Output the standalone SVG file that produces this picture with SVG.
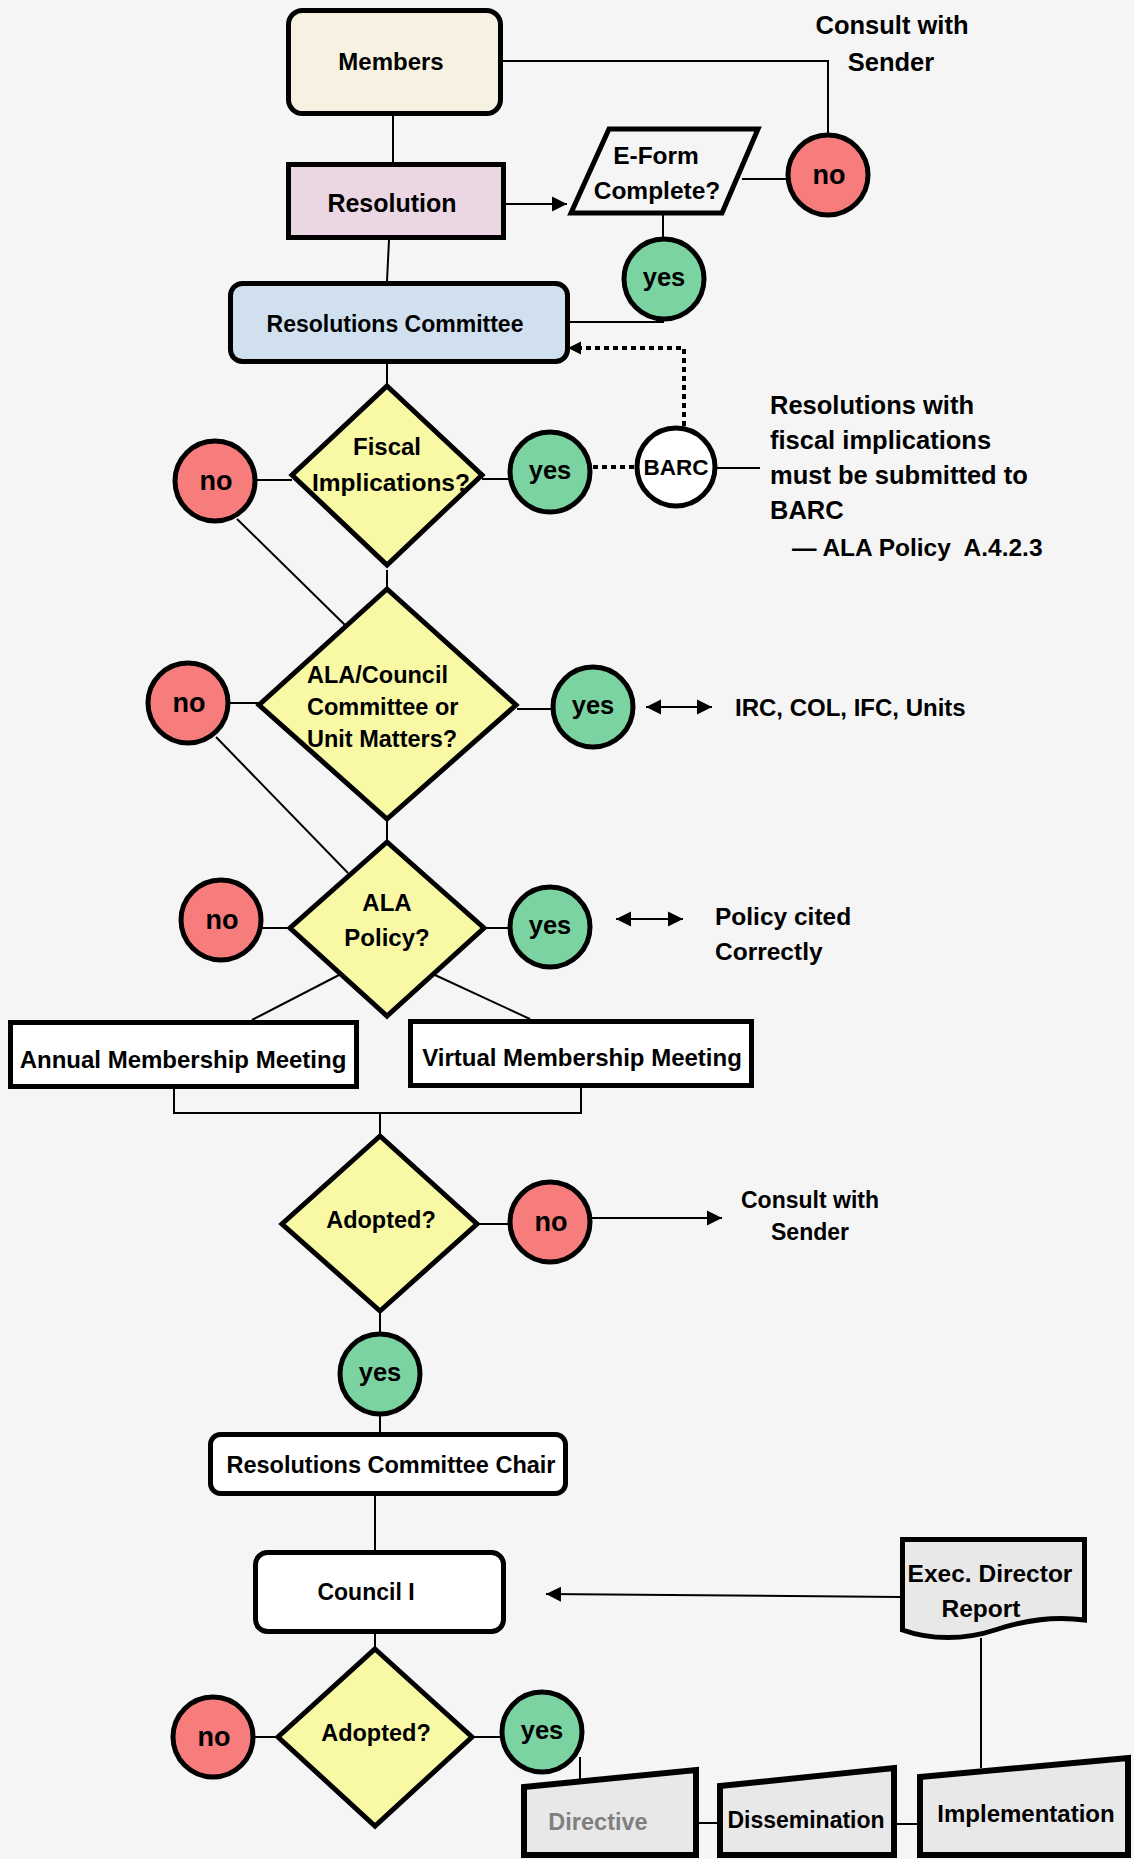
<svg xmlns="http://www.w3.org/2000/svg" width="1134" height="1859" viewBox="0 0 1134 1859">
<style>
.bg{fill:#F5F5F5}
.sh{stroke:#000;stroke-width:5;stroke-linejoin:miter}
.c{stroke:#000;stroke-width:2;fill:none}
.d{stroke:#000;stroke-width:4;stroke-dasharray:5 4;fill:none}
.no{fill:#F77C7C}
.yes{fill:#7BD3A2}
.dia{fill:#F9F9A5}
.doc{fill:#E8E8E8}
.t{font-family:"Liberation Sans",Arial,sans-serif;font-weight:bold;font-size:24px;fill:#000;text-anchor:middle;dominant-baseline:central}
.l{text-anchor:start}
.tn{font-size:27px}
.ty{font-size:25.5px}
</style>
<defs>
<marker id="ah" markerUnits="userSpaceOnUse" markerWidth="16" markerHeight="16" refX="15" refY="8" orient="auto-start-reverse" viewBox="0 0 16 16">
<path d="M0,0.5 L15,8 L0,15.5 Z" fill="#000"/>
</marker>
<marker id="ahs" markerUnits="userSpaceOnUse" markerWidth="14" markerHeight="14" refX="13" refY="7" orient="auto" viewBox="0 0 14 14">
<path d="M0,0.5 L13,7 L0,13.5 Z" fill="#000"/>
</marker>
</defs>
<rect class="bg" x="0" y="0" width="1134" height="1859"/>

<g id="connectors">
<line class="c" x1="393" y1="116" x2="393" y2="162"/>
<polyline class="c" points="503,61 828,61 828,133"/>
<line class="c" x1="506" y1="204" x2="567" y2="204" marker-end="url(#ah)"/>
<line class="c" x1="742" y1="179" x2="787" y2="179"/>
<line class="c" x1="663" y1="215" x2="663" y2="237"/>
<line class="c" x1="570" y1="322" x2="664" y2="322"/>
<line class="c" x1="389" y1="240" x2="387" y2="281"/>
<line class="c" x1="387" y1="364" x2="387" y2="386"/>
<polyline class="d" points="684,426 684,348 580,348"/>
<line x1="580" y1="348" x2="568" y2="348" stroke="none" marker-end="url(#ahs)"/>
<line class="c" x1="257" y1="480" x2="292" y2="480"/>
<line class="c" x1="482" y1="479" x2="510" y2="479"/>
<line class="d" x1="593" y1="467" x2="636" y2="467"/>
<line class="c" x1="717" y1="468" x2="760" y2="468"/>
<line class="c" x1="387" y1="570" x2="387" y2="589"/>
<line class="c" x1="237" y1="519" x2="346" y2="626"/>
<line class="c" x1="230" y1="703" x2="259" y2="703"/>
<line class="c" x1="517" y1="709" x2="553" y2="709"/>
<line class="c" x1="646" y1="707" x2="712" y2="707" marker-start="url(#ah)" marker-end="url(#ah)"/>
<line class="c" x1="216" y1="737" x2="348" y2="873"/>
<line class="c" x1="387" y1="820" x2="387" y2="842"/>
<line class="c" x1="262" y1="928" x2="291" y2="928"/>
<line class="c" x1="484" y1="928" x2="510" y2="928"/>
<line class="c" x1="616" y1="919" x2="683" y2="919" marker-start="url(#ah)" marker-end="url(#ah)"/>
<line class="c" x1="339" y1="975" x2="252" y2="1020"/>
<line class="c" x1="435" y1="975" x2="530" y2="1019"/>
<polyline class="c" points="174,1089 174,1113 581,1113 581,1088"/>
<line class="c" x1="380" y1="1113" x2="380" y2="1136"/>
<line class="c" x1="477" y1="1224" x2="510" y2="1224"/>
<line class="c" x1="592" y1="1218" x2="722" y2="1218" marker-end="url(#ah)"/>
<line class="c" x1="380" y1="1311" x2="380" y2="1333"/>
<line class="c" x1="380" y1="1415" x2="380" y2="1433"/>
<line class="c" x1="375" y1="1496" x2="375" y2="1551"/>
<line class="c" x1="900" y1="1597" x2="546" y2="1594" marker-end="url(#ah)"/>
<line class="c" x1="375" y1="1633" x2="375" y2="1649"/>
<line class="c" x1="254" y1="1737" x2="278" y2="1737"/>
<line class="c" x1="472" y1="1737" x2="501" y2="1737"/>
<line class="c" x1="580" y1="1757" x2="580" y2="1779"/>
<line class="c" x1="697" y1="1823" x2="718" y2="1823"/>
<line class="c" x1="895" y1="1824" x2="918" y2="1824"/>
<line class="c" x1="981" y1="1638" x2="981" y2="1768"/>
</g>

<g id="members">
<rect class="sh" x="288.5" y="10.5" width="212" height="103" rx="14" fill="#F7F1E2"/>
<text class="t" x="391" y="61">Members</text>
</g>
<g id="consult-top">
<text class="t" x="892" y="25" style="font-size:25.5px">Consult with</text>
<text class="t" x="891" y="62" style="font-size:25.5px">Sender</text>
</g>
<g id="resolution">
<rect class="sh" x="288.5" y="164.5" width="215" height="73" fill="#EBD7E3"/>
<text class="t" x="392" y="203" style="font-size:25px">Resolution</text>
</g>
<g id="eform">
<polygon class="sh" points="609,129 758,129 722,213 571,213" fill="#F5F5F5"/>
<text class="t" x="656" y="155" style="font-size:24.5px">E-Form</text>
<text class="t" x="657" y="190" style="font-size:24.5px">Complete?</text>
</g>
<g id="no-eform">
<circle class="sh no" cx="828" cy="175" r="40"/>
<text class="t tn" x="829" y="175">no</text>
</g>
<g id="yes-eform">
<circle class="sh yes" cx="664" cy="279" r="40"/>
<text class="t ty" x="664" y="277">yes</text>
</g>
<g id="res-committee">
<rect class="sh" x="230.5" y="283.5" width="337" height="78" rx="12" fill="#D0E0EE"/>
<text class="t" x="395" y="324" style="font-size:23px">Resolutions Committee</text>
</g>
<g id="fiscal">
<polygon class="sh dia" points="387,386 482,475 387,565 292,475"/>
<text class="t" x="387" y="446" style="font-size:24px">Fiscal</text>
<text class="t" x="391" y="482" style="font-size:24.5px">Implications?</text>
</g>
<g id="no-fiscal">
<circle class="sh no" cx="215" cy="481" r="40"/>
<text class="t tn" x="216" y="481">no</text>
</g>
<g id="yes-fiscal">
<circle class="sh yes" cx="550" cy="472" r="40"/>
<text class="t ty" x="550" y="470">yes</text>
</g>
<g id="barc">
<circle class="sh" cx="676" cy="467" r="39" fill="#FFFFFF"/>
<text class="t" x="676" y="467" style="font-size:22.5px">BARC</text>
</g>
<g id="barc-note">
<text class="t l" x="770" y="405" style="font-size:25.5px">Resolutions with</text>
<text class="t l" x="770" y="440" style="font-size:25.5px">fiscal implications</text>
<text class="t l" x="770" y="475" style="font-size:25.5px">must be submitted to</text>
<text class="t l" x="770" y="510" style="font-size:25.5px">BARC</text>
<text class="t l" x="792" y="547" style="font-size:24.5px;white-space:pre" xml:space="preserve">— ALA Policy  A.4.2.3</text>
</g>
<g id="ala-council">
<polygon class="sh dia" points="387,589 516,705 387,819 259,705"/>
<text class="t l" x="307" y="675" style="font-size:23.5px">ALA/Council</text>
<text class="t l" x="307" y="707" style="font-size:23.5px">Committee or</text>
<text class="t l" x="307" y="739" style="font-size:23.5px">Unit Matters?</text>
</g>
<g id="no-council">
<circle class="sh no" cx="188" cy="703" r="40"/>
<text class="t tn" x="189" y="703">no</text>
</g>
<g id="yes-council">
<circle class="sh yes" cx="593" cy="707" r="40"/>
<text class="t ty" x="593" y="705">yes</text>
</g>
<g id="units">
<text class="t l" x="735" y="707">IRC, COL, IFC, Units</text>
</g>
<g id="ala-policy">
<polygon class="sh dia" points="387,842 484,928 387,1016 290,928"/>
<text class="t" x="387" y="902">ALA</text>
<text class="t" x="387" y="937">Policy?</text>
</g>
<g id="no-policy">
<circle class="sh no" cx="221" cy="920" r="40"/>
<text class="t tn" x="222" y="920">no</text>
</g>
<g id="yes-policy">
<circle class="sh yes" cx="550" cy="927" r="40"/>
<text class="t ty" x="550" y="925">yes</text>
</g>
<g id="policy-note">
<text class="t l" x="715" y="916" style="font-size:24.5px">Policy cited</text>
<text class="t l" x="715" y="951" style="font-size:24.5px">Correctly</text>
</g>
<g id="annual">
<rect class="sh" x="10.5" y="1022.5" width="346" height="64" fill="#FFFFFF"/>
<text class="t" x="183" y="1059">Annual Membership Meeting</text>
</g>
<g id="virtual">
<rect class="sh" x="410.5" y="1021.5" width="341" height="64" fill="#FFFFFF"/>
<text class="t" x="582" y="1057">Virtual Membership Meeting</text>
</g>
<g id="adopted1">
<polygon class="sh dia" points="380,1136 477,1224 380,1311 282,1224"/>
<text class="t" x="381" y="1220" style="font-size:23.5px">Adopted?</text>
</g>
<g id="no-adopted1">
<circle class="sh no" cx="550" cy="1222" r="40"/>
<text class="t tn" x="551" y="1222">no</text>
</g>
<g id="consult-bottom">
<text class="t" x="810" y="1200" style="font-size:23px">Consult with</text>
<text class="t" x="810" y="1232" style="font-size:23px">Sender</text>
</g>
<g id="yes-adopted1">
<circle class="sh yes" cx="380" cy="1374" r="40"/>
<text class="t ty" x="380" y="1372">yes</text>
</g>
<g id="rc-chair">
<rect class="sh" x="210.5" y="1434.5" width="355" height="59" rx="10" fill="#FFFFFF"/>
<text class="t" x="391" y="1465" style="font-size:23.5px">Resolutions Committee Chair</text>
</g>
<g id="council">
<rect class="sh" x="255.5" y="1552.5" width="248" height="79" rx="12" fill="#FFFFFF"/>
<text class="t" x="366" y="1592" style="font-size:23px">Council I</text>
</g>
<g id="exec-report">
<path class="sh doc" d="M902.5,1539.5 H1084.5 V1620 C1055,1616 1025,1620 995,1630 C965,1640 930,1640 902.5,1630 Z"/>
<text class="t" x="990" y="1573" style="font-size:24.5px">Exec. Director</text>
<text class="t" x="981" y="1608" style="font-size:24.5px">Report</text>
</g>
<g id="adopted2">
<polygon class="sh dia" points="375,1649 472,1737 375,1826 278,1737"/>
<text class="t" x="376" y="1733" style="font-size:23.5px">Adopted?</text>
</g>
<g id="no-adopted2">
<circle class="sh no" cx="213" cy="1737" r="40"/>
<text class="t tn" x="214" y="1737">no</text>
</g>
<g id="yes-adopted2">
<circle class="sh yes" cx="542" cy="1732" r="40"/>
<text class="t ty" x="542" y="1730">yes</text>
</g>
<g id="directive">
<polygon class="sh doc" points="524,1787 696,1770 696,1855 524,1855" style="stroke-width:6"/>
<text class="t" x="598" y="1822" style="font-size:23.5px;fill:#7F7F7F">Directive</text>
</g>
<g id="dissemination">
<polygon class="sh doc" points="720,1786 894,1768 894,1855 720,1855" style="stroke-width:6"/>
<text class="t" x="806" y="1820" style="font-size:23px">Dissemination</text>
</g>
<g id="implementation">
<polygon class="sh doc" points="920,1777 1128,1758 1128,1855 920,1855" style="stroke-width:6"/>
<text class="t" x="1026" y="1813">Implementation</text>
</g>
</svg>
